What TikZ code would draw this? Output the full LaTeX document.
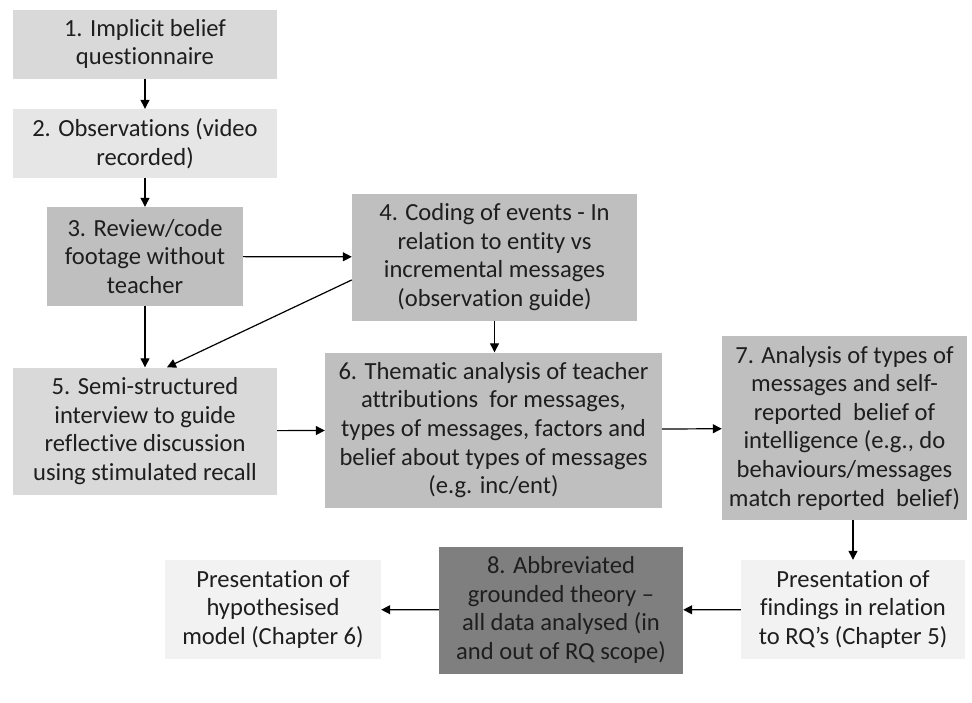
\documentclass[tikz,border=0pt]{standalone}
\usepackage{fontspec}
\setmainfont{Carlito}[Ligatures=NoCommon]
\usetikzlibrary{arrows.meta,calc}

\definecolor{txt}{HTML}{1E1E1E}
\definecolor{fillA}{HTML}{D9D9D9}
\definecolor{fillB}{HTML}{E6E6E6}
\definecolor{fillC}{HTML}{BFBFBF}
\definecolor{fillD}{HTML}{7F7F7F}
\definecolor{fillE}{HTML}{F2F2F2}

\tikzset{
  box/.style={rectangle, inner sep=0pt, align=center, text=txt,
              font=\fontsize{24.6}{28.6}\selectfont},
  flow/.style={-{Triangle[length=9pt,width=9pt]}, line width=1.2pt, black}
}

\begin{document}
\begin{tikzpicture}[x=1pt,y=-1pt]
\useasboundingbox[fill=white] (0,0) rectangle (972,702);

% step boxes
\node[box, fill=fillA, minimum width=264pt, minimum height=69pt] (B1) at (145,44)
  {1. Implicit belief\\questionnaire};
\node[box, fill=fillB, minimum width=264pt, minimum height=69pt] (B2) at (145,143.5)
  {2. Observations (video\\recorded)};
\node[box, fill=fillC, minimum width=196pt, minimum height=99pt] (B3) at (145,256.5)
  {3. Review/code\\footage without\\teacher};
\node[box, fill=fillC, minimum width=285pt, minimum height=127pt] (B4) at (494.5,257)
  {4. Coding of events - In\\relation to entity vs\\incremental messages\\(observation guide)};
\node[box, fill=fillA, minimum width=264pt, minimum height=127pt] (B5) at (145,431)
  {5. Semi-structured\\interview to guide\\reflective discussion\\using stimulated recall};
\node[box, fill=fillC, minimum width=337pt, minimum height=155pt] (B6) at (493.5,430)
  {6. Thematic analysis of teacher\\attributions~ for messages,\\types of messages, factors and\\belief about types of messages\\(e.g. inc/ent)};
\node[box, fill=fillC, minimum width=245pt, minimum height=184pt] (B7) at (844.5,428)
  {7. Analysis of types of\\messages and self-\\reported~ belief of\\intelligence (e.g., do\\behaviours/messages\\match reported~ belief)};
\node[box, fill=fillE, minimum width=224pt, minimum height=99pt] (PF) at (853,609.5)
  {Presentation of\\findings in relation\\to RQ’s (Chapter 5)};
\node[box, fill=fillD, minimum width=244pt, minimum height=127pt] (B8) at (561,610)
  {8. Abbreviated\\grounded theory –\\all data analysed (in\\and out of RQ scope)};
\node[box, fill=fillE, minimum width=216pt, minimum height=99pt] (PH) at (273,609.5)
  {Presentation of\\hypothesised\\model (Chapter 6)};

% diagonal link anchors
\coordinate (d4) at ($(B4.south west)!0.32!(B4.north west)$);
\coordinate (d5) at ($(B5.north west)!0.583!(B5.north east)$);

% connectors
\draw[flow] (B1) -- (B2);
\draw[flow] (B2) -- (B3);
\draw[flow] (B3) -- (B4);
\draw[flow] (B3) -- (B5);
\draw[flow] (d4) -- (d5);
\draw[flow] (B4.south) -- (B4.south |- B6.north);
\draw[flow] (B5) -- (B6);
\draw[flow] (B6) -- (B7);
\draw[flow] (PF.north |- B7.south) -- (PF.north);
\draw[flow] (PF) -- (B8);
\draw[flow] (B8) -- (PH);
\end{tikzpicture}
\end{document}
